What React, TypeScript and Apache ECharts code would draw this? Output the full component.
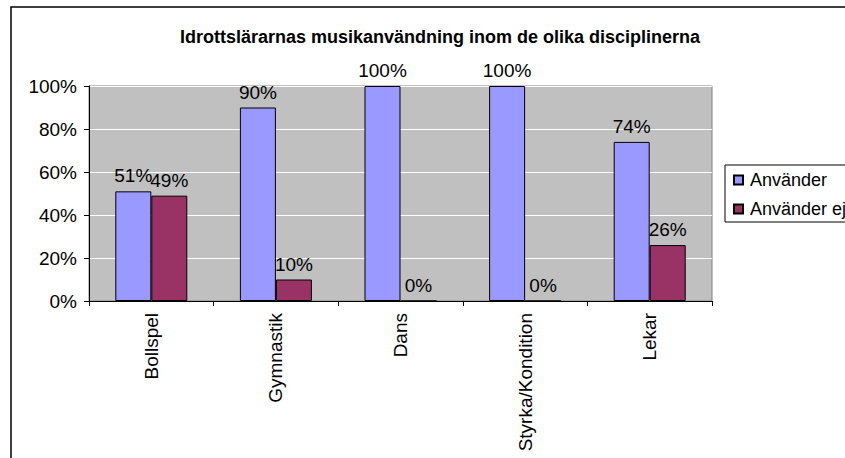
import React, { useEffect, useRef } from "react";
import * as echarts from "echarts";

const titleText = "Idrottslärarnas musikanvändning inom de olika disciplinerna";
const categories = ["Bollspel", "Gymnastik", "Dans", "Styrka/Kondition", "Lekar"];
const seriesNames = ["Använder", "Använder ej"];
const anvander = [51, 90, 100, 100, 74];
const anvanderEj = [49, 10, 0, 0, 26];
const yTicks = { min: 0, max: 100, interval: 20 };

const FONT = "'Liberation Sans', Arial, sans-serif";

export default function App() {
  const ref = useRef<HTMLDivElement>(null);
  useEffect(() => {
    if (!ref.current) return;
    const chart = echarts.init(ref.current, null, { renderer: "svg" });
    const labelCfg = {
      show: true,
      position: "top",
      distance: 6,
      formatter: "{c}%",
      fontSize: 19,
      color: "#000",
      fontFamily: FONT,
    };
    chart.setOption({
      animation: false,
      backgroundColor: "#fff",
      textStyle: { fontFamily: FONT },
      title: {
        text: titleText,
        left: 435,
        top: 23,
        textAlign: "center",
        textStyle: { fontSize: 18, fontWeight: "bold", color: "#000", fontFamily: FONT },
      },
      graphic: [
        {
          type: "rect",
          shape: { x: 11, y: 7, width: 900, height: 500 },
          style: { fill: "none", stroke: "#000", lineWidth: 1.5 },
          silent: true,
        },
      ],
      legend: {
        orient: "vertical",
        left: 725,
        top: 165,
        padding: [6, 60, 4, 8],
        itemGap: 11,
        itemWidth: 9,
        itemHeight: 9,
        icon: "rect",
        borderColor: "#000",
        borderWidth: 1,
        backgroundColor: "#fff",
        textStyle: { fontSize: 18, color: "#000", fontFamily: FONT, padding: [0, 0, 0, 2] },
        data: seriesNames,
      },
      grid: {
        left: 89,
        top: 86,
        width: 623,
        height: 215,
        show: true,
        backgroundColor: "#C0C0C0",
        borderColor: "#808080",
        borderWidth: 1,
      },
      xAxis: {
        type: "category",
        data: categories,
        axisLine: { show: true, lineStyle: { color: "#000", width: 1 } },
        axisTick: { show: true, length: 5, lineStyle: { color: "#000" } },
        axisLabel: {
          rotate: 90,
          margin: 12,
          fontSize: 19,
          color: "#000",
          fontFamily: FONT,
          interval: 0,
        },
      },
      yAxis: {
        type: "value",
        min: yTicks.min,
        max: yTicks.max,
        interval: yTicks.interval,
        axisLine: { show: true, lineStyle: { color: "#000", width: 1 } },
        axisTick: { show: true, length: 5, lineStyle: { color: "#000" } },
        axisLabel: {
          formatter: "{value}%",
          fontSize: 19,
          color: "#000",
          margin: 12,
          fontFamily: FONT,
        },
        splitLine: { show: true, lineStyle: { color: "#fff", width: 1 } },
      },
      series: [
        {
          name: seriesNames[0],
          type: "bar",
          data: anvander,
          barWidth: 36,
          barGap: "0%",
          itemStyle: { color: "#9999FF", borderColor: "#000", borderWidth: 1 },
          label: labelCfg,
        },
        {
          name: seriesNames[1],
          type: "bar",
          data: anvanderEj,
          barWidth: 36,
          barGap: "0%",
          itemStyle: { color: "#993366", borderColor: "#000", borderWidth: 1 },
          label: labelCfg,
        },
      ],
    });
    return () => chart.dispose();
  }, []);
  return (
    <div
      ref={ref}
      style={{ position: "absolute", left: 0, top: 0, width: 845, height: 458 }}
    />
  );
}
